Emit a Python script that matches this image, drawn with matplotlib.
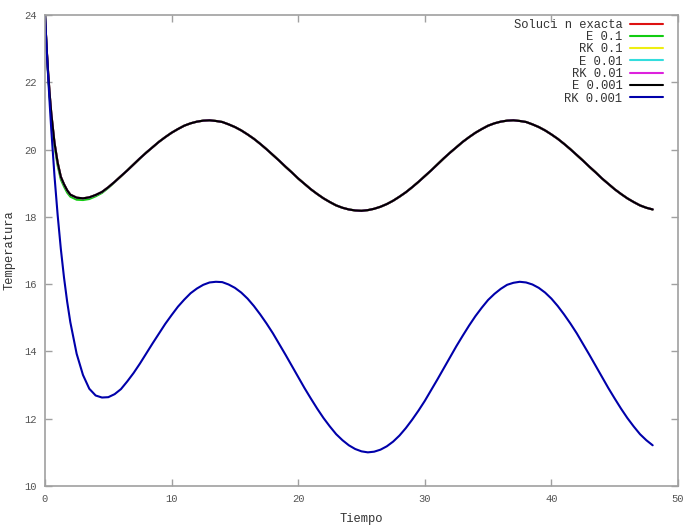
import matplotlib
matplotlib.use("Agg")
import matplotlib.pyplot as plt

# tiempos de muestreo
tiempo = [0, 0.125, 0.25, 0.375, 0.5, 0.75, 1, 1.25, 1.5, 1.75, 2, 2.5, 3, 3.5,
          4, 4.5, 5, 5.5, 6, 6.5, 7, 7.5, 8, 8.5, 9, 9.5, 10, 10.5, 11, 11.5,
          12, 12.5, 13, 13.5, 14, 14.5, 15, 15.5, 16, 16.5, 17, 17.5, 18, 18.5,
          19, 19.5, 20, 20.5, 21, 21.5, 22, 22.5, 23, 23.5, 24, 24.5, 25, 25.5,
          26, 26.5, 27, 27.5, 28, 28.5, 29, 29.5, 30, 30.5, 31, 31.5, 32, 32.5,
          33, 33.5, 34, 34.5, 35, 35.5, 36, 36.5, 37, 37.5, 38, 38.5, 39, 39.5,
          40, 40.5, 41, 41.5, 42, 42.5, 43, 43.5, 44, 44.5, 45, 45.5, 46, 46.5,
          47, 47.5, 48]

# curva superior (solucion exacta; las demas aproximaciones caen encima)
exacta = [24.00, 23.05, 22.27, 21.62, 21.06, 20.20, 19.61, 19.19, 18.97, 18.79,
          18.66, 18.57, 18.55, 18.58,
          18.65, 18.74, 18.88, 19.04, 19.21, 19.38, 19.56, 19.74, 19.91, 20.07,
          20.23, 20.37, 20.50, 20.61, 20.71, 20.78, 20.83, 20.86, 20.87, 20.85,
          20.82, 20.75, 20.67, 20.57, 20.45, 20.32, 20.17, 20.01, 19.84, 19.67,
          19.49, 19.32, 19.14, 18.98, 18.82, 18.68, 18.55, 18.44, 18.34, 18.27,
          18.22, 18.19, 18.18, 18.20, 18.24, 18.30, 18.38, 18.48, 18.60, 18.73,
          18.88, 19.04, 19.21, 19.38, 19.56, 19.74, 19.91, 20.07, 20.23, 20.37,
          20.50, 20.61, 20.71, 20.78, 20.83, 20.86, 20.87, 20.85, 20.82, 20.75,
          20.67, 20.57, 20.45, 20.32, 20.17, 20.01, 19.84, 19.67, 19.49, 19.32,
          19.14, 18.98, 18.82, 18.68, 18.55, 18.44, 18.34, 18.27, 18.22]

# Euler h=0.1: un poco por debajo cerca del primer minimo
e_01 = [24.00, 23.00, 22.20, 21.53, 20.97, 20.10, 19.52, 19.11, 18.90, 18.72,
        18.60, 18.51, 18.50, 18.53,
        18.61, 18.71, 18.86, 19.03] + exacta[18:]

rk_01 = exacta
e_001 = exacta
rk_001 = exacta
e_0001 = exacta

# RK h=0.001: curva inferior
rk_0001 = [24.00, 23.04, 22.16, 21.33, 20.57, 19.21, 18.05, 17.05, 16.20, 15.48,
           14.87, 13.93, 13.30, 12.89,
           12.69, 12.63, 12.64, 12.73, 12.88, 13.11, 13.36, 13.64, 13.94, 14.24,
           14.53, 14.82, 15.08, 15.33, 15.54, 15.73, 15.87, 15.98, 16.05, 16.07,
           16.06, 15.99, 15.89, 15.75, 15.57, 15.35, 15.10, 14.83, 14.54, 14.22,
           13.90, 13.57, 13.24, 12.91, 12.60, 12.30, 12.02, 11.77, 11.54, 11.36,
           11.21, 11.10, 11.03, 11.00, 11.02, 11.08, 11.18, 11.32, 11.50, 11.72,
           11.97, 12.24, 12.53, 12.85, 13.17, 13.50, 13.83, 14.16, 14.47, 14.77,
           15.05, 15.30, 15.53, 15.71, 15.86, 15.98, 16.04, 16.07, 16.05, 15.99,
           15.89, 15.75, 15.57, 15.35, 15.10, 14.83, 14.54, 14.22, 13.90, 13.57,
           13.24, 12.91, 12.60, 12.30, 12.02, 11.77, 11.54, 11.36, 11.21]

etiquetas = ["Soluci n exacta", "E 0.1", "RK 0.1", "E 0.01", "RK 0.01",
             "E 0.001", "RK 0.001"]
series = [exacta, e_01, rk_01, e_001, rk_001, e_0001, rk_0001]
colores = ["#dd1111", "#11cc11", "#eeee11", "#33dddd", "#dd22dd", "#000000", "#0000aa"]

mono = "Liberation Mono"
gris = "#a0a0a0"

fig = plt.figure(figsize=(7, 5.25), dpi=100)
ax = fig.add_axes([45 / 700, 1 - 486 / 525, 633 / 700, 471 / 525])

for y, c, lab in zip(series, colores, etiquetas):
    ax.plot(tiempo, y, color=c, lw=1.5, label=lab,
            solid_joinstyle="round", solid_capstyle="round")

ax.set_xlim(0, 50)
ax.set_ylim(10, 24)
ax.set_xticks(range(0, 51, 10))
ax.set_yticks(range(10, 25, 2))

for s in ax.spines.values():
    s.set_color(gris)
    s.set_linewidth(1.2)
ax.tick_params(direction="in", length=5, width=1, color=gris, labelcolor="#555555",
               labelsize=7.6, top=True, right=True, pad=6)
for t in ax.get_xticklabels() + ax.get_yticklabels():
    t.set_fontfamily(mono)

ax.set_xlabel("Tiempo", fontfamily=mono, fontsize=8.7, color="#333333", labelpad=6)
ax.set_ylabel("Temperatura", fontfamily=mono, fontsize=8.7, color="#333333", labelpad=6)

leg = ax.legend(loc="upper right", bbox_to_anchor=(0.976, 0.992), frameon=False,
                markerfirst=False, handlelength=2.75, handletextpad=0.6,
                labelspacing=0.025, borderpad=0, borderaxespad=0,
                prop={"family": mono, "size": 8.7})
for t in leg.get_texts():
    t.set_color("#333333")

fig.savefig("out.png", dpi=100)
